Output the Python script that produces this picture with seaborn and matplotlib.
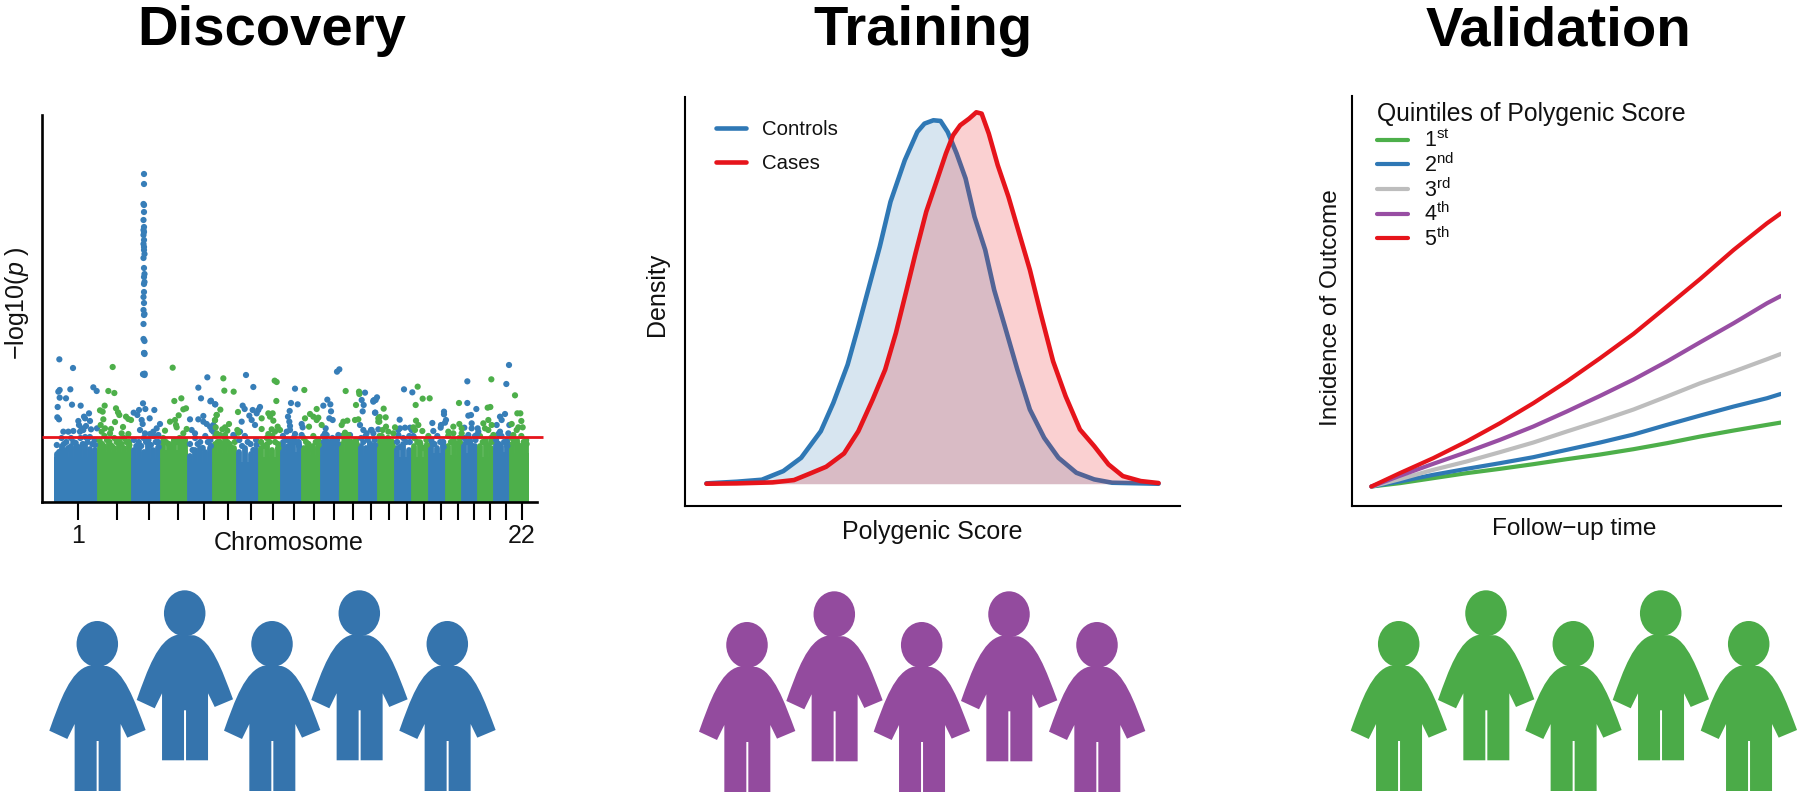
import matplotlib
matplotlib.use("Agg")
import matplotlib.pyplot as plt
from matplotlib.patches import Ellipse, PathPatch
from matplotlib.path import Path
import numpy as np
import pandas as pd
import seaborn as sns

sns.set_theme(style="white")
plt.rcParams['font.family'] = ['Liberation Sans', 'DejaVu Sans']
plt.rcParams['mathtext.fontset'] = 'custom'
plt.rcParams['mathtext.rm'] = 'Liberation Sans'
plt.rcParams['mathtext.it'] = 'Liberation Sans:italic'
plt.rcParams['mathtext.default'] = 'regular'

BLUE = "#377EB8"
GREEN = "#4DAF4A"
RED = "#E6141B"
GREY = "#BDBDBD"
PURPLE = "#984EA3"
INK = "#111111"

W, H = 1800, 795

# ---- Manhattan data (positions and heights on the panel's own arbitrary scale)
chrom_edges = [54.3, 97.1, 131.4, 160.7, 187.5, 212.9, 236.8, 258.6, 280.4, 301.1, 320.7, 339.6,
               358.6, 377.1, 394.6, 411.8, 428.9, 445.7, 461.8, 477.5, 493.6, 509.3, 528.6]
chrom_base = [45, 50, 44, 52, 40, 49, 40, 45, 50, 47, 52, 50, 47, 52, 45, 45, 49, 47, 49, 45, 50, 49]
chrom_ticks = [78, 117, 149, 178, 204, 228, 251, 273, 294, 314, 334, 353, 371, 389, 407, 424, 441, 458, 474, 490, 506, 522]
threshold = 65

band_upper = [[57, 64, 60, 64, 59, 64, 65, 65, 62], [62, 66, 60, 64, 62, 64, 60], [62, 60, 64, 62, 66, 60],
              [64, 58, 62, 64, 62], [58, 64, 60, 66, 62], [66, 60, 64, 58, 66], [62, 66, 58, 62], [60, 64, 66, 58],
              [66, 62, 64, 60], [64, 58, 66, 62], [66, 60, 64, 62], [66, 64, 60, 62], [64, 66, 58, 62],
              [66, 62, 64, 60], [60, 64, 66], [64, 58, 62], [62, 66, 60], [66, 62, 64], [64, 60, 66],
              [66, 62, 64], [62, 66, 60], [64, 60, 66, 62]]
band_mid = [[50, 58, 54, 60, 55, 58, 60, 58, 57], [58, 62, 56, 60, 58, 60, 57], [56, 56, 60, 57, 60, 55],
            [60, 56, 60, 60, 58], [52, 58, 54, 60, 56], [60, 56, 60, 54, 60], [56, 60, 52, 57], [56, 60, 60, 54],
            [62, 58, 60, 56], [60, 54, 60, 57], [62, 56, 60, 58], [62, 60, 56, 58], [60, 62, 54, 57],
            [62, 58, 60, 56], [55, 60, 60], [60, 54, 57], [58, 60, 55], [60, 58, 60], [60, 56, 62],
            [60, 56, 60], [58, 60, 56], [60, 56, 60, 58]]
band_lower = [[48, 56, 52, 56, 55, 54, 57, 53, 52], [59, 56, 60, 54, 58, 54, 60], [52, 56, 50, 58, 52, 54],
              [60, 58, 62, 58, 60], [46, 52, 54, 50, 54], [58, 56, 60, 56, 54], [50, 54, 48, 52], [54, 58, 52, 54],
              [60, 56, 62, 58], [54, 58, 56, 54], [60, 58, 62, 58], [58, 62, 56, 60], [56, 54, 58, 56],
              [62, 58, 60, 60], [54, 58, 52], [56, 60, 54], [58, 54, 60], [56, 60, 58], [58, 62, 56],
              [56, 60, 54], [60, 56, 62], [58, 62, 56, 60]]

win_a_blue_x = [28, 69, 283, 279, 284, 61, 130, 140, 29, 25, 29, 48, 23, 66, 92, 472, 445, 453, 481, 495, 279, 267, 286, 313, 251, 262, 117, 102, 105, 22, 27, 85, 120, 87, 108, 95, 123, 141, 275, 299, 278, 330, 320, 310, 40, 55, 70, 90, 100, 420, 460, 445, 460, 470, 480, 425, 435, 270, 285, 300, 325, 490]
win_a_blue_y = [28, 54, 9, 73, 71, 118, 112, 123, 120, 125, 143, 145, 171, 164, 167, 82, 113, 145, 154, 163, 160, 180, 177, 180, 188, 195, 190, 200, 205, 202, 208, 213, 213, 225, 228, 235, 238, 235, 210, 205, 222, 222, 235, 245, 245, 245, 243, 245, 240, 208, 198, 208, 215, 222, 230, 240, 250, 240, 250, 252, 255, 245]
win_a_green_x = [188, 368, 175, 193, 373, 394, 164, 150, 158, 198, 204, 208, 228, 235, 243, 195, 160, 152, 165, 183, 219, 155, 180, 215, 235, 345, 360, 375, 378, 380, 386, 400, 408, 410, 400, 495, 500, 495, 500]
win_a_green_y = [51, 53, 123, 129, 153, 145, 167, 181, 185, 175, 187, 195, 200, 207, 210, 216, 208, 225, 235, 237, 231, 245, 250, 250, 252, 242, 215, 210, 225, 232, 196, 178, 175, 237, 250, 210, 195, 232, 250]

win_b_blue_x = [108, 130, 381, 388, 255, 243, 263, 239, 234, 238, 240, 275, 278, 352, 340, 361, 363, 358, 368, 347, 345, 350, 3, 16, 98, 104, 128, 150, 145, 140, 118, 125, 135, 95, 10, 5, 90, 70, 230, 240, 255, 275, 465, 455, 461, 458, 490, 497, 495, 450, 460, 485, 505, 470, 385, 420]
win_b_blue_y = [75, 111, 65, 58, 116, 159, 163, 183, 200, 215, 228, 222, 232, 149, 167, 163, 184, 205, 210, 235, 250, 255, 152, 163, 167, 177, 180, 171, 180, 190, 197, 210, 225, 215, 225, 240, 245, 255, 245, 240, 252, 255, 128, 150, 165, 184, 152, 150, 188, 225, 240, 240, 238, 250, 255, 255]
win_b_green_x = [40, 43, 71, 194, 200, 199, 84, 31, 20, 15, 17, 57, 45, 37, 52, 82, 85, 175, 188, 180, 190, 155, 155, 185, 203, 210, 195, 175, 283, 320, 300, 285, 310, 325, 320, 297, 335, 407, 447, 448, 438, 505, 505, 445, 435, 412, 400, 395, 405, 415, 45, 30]
win_b_green_y = [85, 122, 125, 92, 96, 153, 186, 179, 195, 211, 232, 222, 232, 238, 242, 240, 248, 190, 190, 200, 212, 205, 237, 238, 230, 240, 245, 252, 120, 177, 192, 205, 200, 203, 210, 230, 225, 123, 125, 132, 165, 205, 215, 208, 210, 212, 215, 225, 248, 255, 255, 255]

win_c_blue_x = [417, 409, 292, 102, 127, 292, 319, 222, 222, 295, 303, 13, 21, 10, 16, 89, 187, 228, 225, 213, 212, 190, 283, 305, 305, 323, 325, 390, 395, 405, 418, 380, 390, 385, 3, 10, 85, 90, 105, 120, 125, 85, 130, 295, 320, 415]
win_c_blue_y = [45, 102, 94, 118, 127, 159, 177, 185, 193, 197, 195, 150, 142, 155, 188, 209, 219, 210, 218, 225, 233, 243, 233, 220, 235, 235, 245, 200, 210, 192, 225, 225, 245, 252, 240, 250, 240, 235, 233, 233, 240, 255, 258, 255, 255, 250]
win_c_green_x = [143, 158, 179, 137, 41, 29, 47, 28, 267, 364, 435, 353, 361, 442, 451, 454, 138, 145, 130, 135, 157, 75, 48, 38, 55, 70, 340, 355, 365, 355, 345, 370, 425, 445, 458, 440, 430, 268, 250, 275, 235, 250, 275, 175, 35]
win_c_green_y = [110, 146, 145, 165, 176, 201, 202, 215, 159, 88, 136, 173, 171, 190, 190, 213, 212, 225, 232, 240, 243, 232, 230, 240, 245, 250, 220, 210, 225, 240, 235, 255, 222, 232, 232, 240, 255, 222, 230, 235, 245, 250, 250, 258, 258]

spike_x = [144, 144, 143.5, 144, 144, 143.5, 144, 143.5, 144, 143.5, 144, 143.5, 144, 144, 144.5, 143.5, 144, 144.5, 144, 144.5, 144, 144, 143.5, 144, 143.5, 144.5, 144, 143.5, 143.5, 144.5, 144.5, 144, 143.5, 144.5]
spike_y = [328, 318, 298, 297, 290, 282, 275, 272, 270, 267, 262, 258, 255, 252, 248, 244, 234, 228, 225, 220, 218, 210, 205, 199, 192, 188, 187, 178, 163, 161, 148, 149, 128, 127]

# ---- density data
controls_x = [215, 300, 370, 430, 480, 535, 570, 610, 640, 670, 700, 730, 770, 805, 825, 850, 870, 890, 915, 940, 965, 995, 1020, 1050, 1085, 1120, 1160, 1200, 1250, 1300, 1350, 1480]
controls_y = [1, 6, 12, 38, 78, 158, 243, 358, 473, 593, 713, 848, 973, 1058, 1083, 1093, 1091, 1058, 993, 918, 803, 703, 583, 473, 343, 223, 138, 78, 33, 13, 3, 0]
cases_x = [215, 300, 400, 460, 510, 550, 600, 640, 680, 715, 745, 775, 800, 830, 860, 885, 905, 925, 950, 970, 985, 1005, 1030, 1060, 1090, 1120, 1150, 1185, 1220, 1260, 1300, 1340, 1380, 1430, 1480]
cases_y = [0, 1, 4, 11, 33, 51, 91, 158, 253, 343, 453, 583, 693, 818, 913, 993, 1048, 1078, 1098, 1117, 1113, 1053, 958, 863, 753, 643, 513, 368, 263, 163, 113, 58, 23, 8, 2]

# ---- incidence data
followup = [215, 300, 400, 500, 600, 700, 800, 900, 1000, 1100, 1200, 1300, 1400, 1442]
q1 = [57, 67, 82, 97, 110, 124, 139, 153, 169, 187, 207, 225, 242, 249]
q2 = [57, 72, 92, 110, 127, 145, 167, 189, 213, 242, 270, 297, 322, 335]
q3 = [57, 79, 107, 132, 160, 189, 222, 254, 288, 327, 367, 402, 439, 455]
q4 = [57, 89, 125, 160, 197, 237, 282, 329, 378, 432, 490, 547, 607, 629]
q5 = [57, 97, 142, 192, 247, 307, 372, 442, 515, 597, 680, 767, 847, 877]
quintile_labels = ['1$^{st}$', '2$^{nd}$', '3$^{rd}$', '4$^{th}$', '5$^{th}$']


def px_axes(fig, left, right, top, bottom):
    return fig.add_axes([left / W, 1 - bottom / H, (right - left) / W, (bottom - top) / H])


fig = plt.figure(figsize=(18, 7.95), dpi=100)
fig.patch.set_facecolor('white')

# overlay in picture pixels, for labels and the people
over = fig.add_axes([0, 0, 1, 1], zorder=5)
over.set_xlim(0, W)
over.set_ylim(H, 0)
over.axis('off')


def style_axes(ax, lw):
    sns.despine(ax=ax)
    ax.set_facecolor('none')
    for s in ['left', 'bottom']:
        ax.spines[s].set_linewidth(lw)
        ax.spines[s].set_color('black')
    ax.set_xlabel('')
    ax.set_ylabel('')


def put_labels(ax, xlabel, xpos, ylabel, ypos, size=18):
    ax.set_xlabel(xlabel, fontsize=size, color=INK, va='center')
    ax.xaxis.set_label_coords(xpos[0], xpos[1], transform=over.transData)
    ax.set_ylabel(ylabel, fontsize=size, color=INK, va='center')
    ax.yaxis.set_label_coords(ypos[0], ypos[1], transform=over.transData)


# ---- Discovery
ax1 = px_axes(fig, 42, 537, 115, 502)
for i in range(22):
    col = BLUE if i % 2 == 0 else GREEN
    ax1.bar(chrom_edges[i], chrom_base[i], width=chrom_edges[i + 1] - chrom_edges[i], align='edge', color=col, linewidth=0)
    pos = np.linspace(chrom_edges[i] + 2.5, chrom_edges[i + 1] - 2.5, len(band_lower[i]))
    ax1.vlines(pos, 0, band_lower[i], color=col, lw=4.2, capstyle='round')

rows = []
for i in range(22):
    name = 'blue' if i % 2 == 0 else 'green'
    pos = np.linspace(chrom_edges[i] + 2.5, chrom_edges[i + 1] - 2.5, len(band_upper[i]))
    gap = pos[1] - pos[0]
    for p, u, m in zip(pos, band_upper[i], band_mid[i]):
        rows.append((p, u, name))
        rows.append((min(p + gap / 2, chrom_edges[i + 1] - 2), m, name))
for start, bx, by, gx, gy in [(50, win_a_blue_x, win_a_blue_y, win_a_green_x, win_a_green_y),
                              (210, win_b_blue_x, win_b_blue_y, win_b_green_x, win_b_green_y),
                              (370, win_c_blue_x, win_c_blue_y, win_c_green_x, win_c_green_y)]:
    for a, b in zip(bx, by):
        rows.append((start + a / 3, 152 - b / 3, 'blue'))
    for a, b in zip(gx, gy):
        rows.append((start + a / 3, 152 - b / 3, 'green'))
for a, b in zip(spike_x, spike_y):
    rows.append((a, b, 'blue'))
loci = pd.DataFrame(rows, columns=['pos', 'logp', 'col'])
sns.scatterplot(data=loci, x='pos', y='logp', hue='col', palette={'blue': BLUE, 'green': GREEN},
                s=20, linewidth=0, legend=False, ax=ax1, zorder=3)
ax1.hlines(threshold, 42, 543, color=RED, lw=2.0, clip_on=False, zorder=4)
ax1.set_xlim(42, 537)
ax1.set_ylim(0, 387)
style_axes(ax1, 1.9)
ax1.set_yticks([])
ax1.set_xticks(chrom_ticks)
ax1.set_xticklabels(['1'] + [''] * 20 + ['22'], fontsize=18, color=INK)
ax1.tick_params(axis='x', bottom=True, length=13, width=1.5, color='black', pad=2.5)
put_labels(ax1, 'Chromosome', (289, 543), r'$-$log10($\mathit{p}$ )', (17, 303))

# ---- Training
ax2 = px_axes(fig, 685, 1180, 97, 506)
ax2.fill_between(controls_x, controls_y, 0, color=BLUE, alpha=0.2, linewidth=0, zorder=1)
sns.lineplot(x=controls_x, y=controls_y, color="#2F78B5", lw=3.3, sort=False, estimator=None, ax=ax2, zorder=2,
             label='Controls', solid_joinstyle='round', solid_capstyle='round')
ax2.fill_between(cases_x, cases_y, 0, color=RED, alpha=0.2, linewidth=0, zorder=3)
sns.lineplot(x=cases_x, y=cases_y, color=RED, lw=3.3, sort=False, estimator=None, ax=ax2, zorder=4,
             label='Cases', solid_joinstyle='round', solid_capstyle='round')
ax2.set_xlim(155, 1540)
ax2.set_ylim(-67, 1163)
style_axes(ax2, 1.5)
ax2.set_xticks([])
ax2.set_yticks([])
ax2.legend(loc='upper left', bbox_to_anchor=(716 / W, 1 - 120 / H), bbox_transform=fig.transFigure, frameon=False,
           fontsize=14.7, handlelength=1.47, handletextpad=0.78, labelspacing=0.75, borderpad=0, borderaxespad=0,
           labelcolor=INK)
put_labels(ax2, 'Polygenic Score', (932, 532), 'Density', (657, 294))

# ---- Validation
incidence = pd.DataFrame({'time': followup, '1st': q1, '2nd': q2, '3rd': q3, '4th': q4, '5th': q5})
incidence = incidence.melt(id_vars='time', var_name='quintile', value_name='value')
ax3 = px_axes(fig, 1352, 1781, 96, 505.5)
sns.lineplot(data=incidence, x='time', y='value', hue='quintile', palette=[GREEN, "#2F78B5", GREY, PURPLE, RED],
             lw=3.0, estimator=None, ax=ax3, solid_joinstyle='round')
ax3.set_xlim(157, 1442)
ax3.set_ylim(0, 1229)
style_axes(ax3, 1.5)
ax3.set_xticks([])
ax3.set_yticks([])
handles = ax3.get_legend_handles_labels()[0]
leg = ax3.legend(handles, quintile_labels, title='Quintiles of Polygenic Score', loc='upper left',
                 bbox_to_anchor=(1377 / W, 1 - 102 / H), bbox_transform=fig.transFigure, frameon=False,
                 fontsize=15.5, title_fontsize=17.8, handlelength=1.45, handletextpad=0.75, labelspacing=0.05,
                 borderpad=0, borderaxespad=0, alignment='left', labelcolor=INK)
leg.get_title().set_color(INK)
leg._legend_box.sep = 2.4
put_labels(ax3, 'Follow\u2212up time', (1574, 529), 'Incidence of Outcome', (1331, 308), size=17.6)

# ---- titles
for label, cx in [('Discovery', 272), ('Training', 923), ('Validation', 1558)]:
    over.text(cx, 31, label, fontsize=40.5, fontweight='bold', color='black', ha='center', va='center')


# ---- people
def person(cx, cy, color):
    verts = [(-24, 65), (-80, 78), (-112, 170), (-144, 260), (-90, 285), (-68, 240), (-68, 441), (-2, 441), (-2, 291),
             (4, 291), (4, 441), (70, 441), (70, 240), (90, 281), (145, 258), (112, 170), (80, 78), (28, 66), (-24, 65)]
    codes = [Path.MOVETO, Path.CURVE4, Path.CURVE4, Path.CURVE4] + [Path.LINETO] * 11 + [Path.CURVE4] * 3 + [Path.CLOSEPOLY]
    pts = [(cx + a / 3, cy + b / 3) for a, b in verts]
    over.add_patch(PathPatch(Path(pts, codes), facecolor=color, edgecolor='none'))
    over.add_patch(Ellipse((cx, cy), 41.5, 46, facecolor=color, edgecolor='none'))


for xs, ys, col in [([97.3, 184.7, 272, 359.3, 447.3], [644, 613.3, 644, 613.3, 644], "#3574AD"),
                    ([747, 834.3, 921.7, 1009, 1097], [645, 614.3, 645, 614.3, 645], "#934B9E"),
                    ([1398.7, 1486, 1573.3, 1660.7, 1748.7], [644, 613.3, 644, 613.3, 644], "#4BAB48")]:
    for x, y in zip(xs, ys):
        person(x, y, col)

fig.savefig('out.png', dpi=100)
